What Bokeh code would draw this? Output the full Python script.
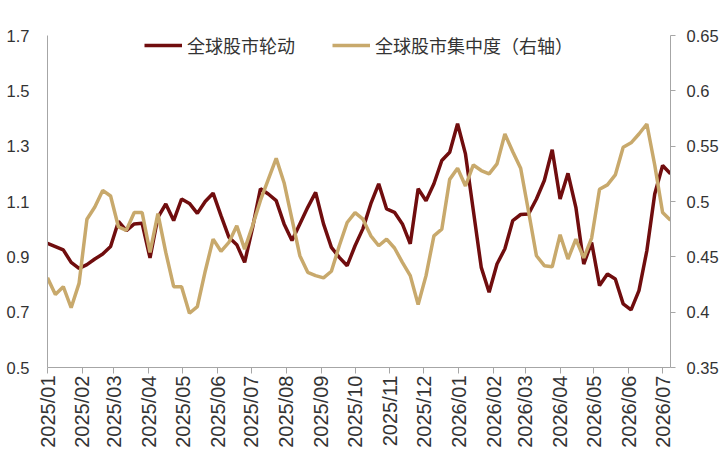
import numpy as np
import pandas as pd
from bokeh.plotting import figure
from bokeh.models import (Range1d, LinearAxis, FixedTicker, DatetimeTickFormatter,
                          NumeralTickFormatter, Legend, LegendItem)
from bokeh.embed import file_html
from bokeh.resources import INLINE

# 周度数据，2025/01 起
start_date = "2025-01-01"
n_weeks = 80

# 全球股市轮动（左轴）
rotation = [0.949, 0.937, 0.925, 0.880, 0.858, 0.872, 0.892, 0.910, 0.937, 1.028,
            0.995, 1.019, 1.021, 0.896, 1.043, 1.091, 1.031, 1.109, 1.093, 1.057,
            1.100, 1.130, 1.049, 0.971, 0.944, 0.880, 1.005, 1.146, 1.127, 1.103,
            1.019, 0.959, 1.019, 1.079, 1.133, 1.019, 0.934, 0.898, 0.868, 0.940,
            1.002, 1.092, 1.164, 1.073, 1.061, 1.019, 0.947, 1.146, 1.103, 1.164,
            1.248, 1.278, 1.381, 1.272, 1.067, 0.862, 0.772, 0.874, 0.929, 1.031,
            1.053, 1.055, 1.109, 1.176, 1.287, 1.109, 1.202, 1.079, 0.874, 0.952,
            0.796, 0.838, 0.820, 0.730, 0.708, 0.778, 0.922, 1.127, 1.230, 1.200]

# 全球股市集中度（右轴）
concentration = [0.431, 0.416, 0.423, 0.404, 0.426, 0.484, 0.495, 0.510, 0.505, 0.477,
                 0.474, 0.490, 0.490, 0.454, 0.489, 0.454, 0.423, 0.423, 0.399, 0.405,
                 0.437, 0.466, 0.455, 0.463, 0.478, 0.457, 0.478, 0.501, 0.520, 0.539,
                 0.517, 0.484, 0.451, 0.436, 0.433, 0.431, 0.437, 0.460, 0.481, 0.490,
                 0.484, 0.469, 0.460, 0.466, 0.458, 0.445, 0.433, 0.407, 0.433, 0.469,
                 0.475, 0.520, 0.530, 0.514, 0.533, 0.528, 0.525, 0.534, 0.561, 0.545,
                 0.530, 0.491, 0.451, 0.442, 0.441, 0.470, 0.448, 0.466, 0.449, 0.467,
                 0.511, 0.515, 0.524, 0.549, 0.553, 0.561, 0.570, 0.533, 0.490, 0.483]

tick_labels = ["2025/01", "2025/02", "2025/03", "2025/04", "2025/05", "2025/06",
               "2025/07", "2025/08", "2025/09", "2025/10", "2025/11", "2025/12",
               "2026/01", "2026/02", "2026/03", "2026/04", "2026/05", "2026/06",
               "2026/07"]
left_ticks = [0.5, 0.7, 0.9, 1.1, 1.3, 1.5, 1.7]
right_ticks = [0.35, 0.40, 0.45, 0.50, 0.55, 0.60, 0.65]

dates = pd.date_range(start_date, periods=n_weeks, freq="7D")
tick_ms = [pd.Timestamp(d).timestamp() * 1000 for d in pd.to_datetime(tick_labels, format="%Y/%m")]

DARK = "#700d0e"
TAN = "#c8a96c"
AXIS = "#a6a6a6"
TEXT = "#333333"

p = figure(frame_width=623, frame_height=332, x_axis_type="datetime",
           x_range=Range1d(dates[0].to_pydatetime(), dates[-1].to_pydatetime()),
           y_range=Range1d(0.5, 1.7),
           output_backend="svg", toolbar_location=None,
           min_border_left=47, min_border_right=56, min_border_top=35, min_border_bottom=89)
p.extra_y_ranges = {"conc": Range1d(0.35, 0.65)}
p.outline_line_color = None
p.xgrid.visible = False
p.ygrid.visible = False

r1 = p.line(dates, rotation, line_color=DARK, line_width=3.5)
r2 = p.line(dates, concentration, y_range_name="conc", line_color=TAN, line_width=3.5)

# 左轴
ly = p.yaxis[0]
ly.ticker = FixedTicker(ticks=left_ticks)
ly.formatter = NumeralTickFormatter(format="0.[0]")
ly.major_tick_out = 0
ly.major_tick_in = 0
ly.minor_tick_out = 0
ly.minor_tick_in = 0
ly.axis_line_color = AXIS
ly.major_label_standoff = 18
ly.major_label_text_font = "Liberation Sans"
ly.major_label_text_font_size = "16.5px"
ly.major_label_text_color = TEXT

# 右轴
ry = LinearAxis(y_range_name="conc")
ry.ticker = FixedTicker(ticks=right_ticks)
ry.formatter = NumeralTickFormatter(format="0.[00]")
ry.major_tick_out = 5
ry.major_tick_in = 0
ry.minor_tick_out = 0
ry.minor_tick_in = 0
ry.axis_line_color = AXIS
ry.major_tick_line_color = AXIS
ry.major_label_standoff = 11
ry.major_label_text_font = "Liberation Sans"
ry.major_label_text_font_size = "16.5px"
ry.major_label_text_color = TEXT
p.add_layout(ry, "right")

# 横轴
xa = p.xaxis[0]
xa.ticker = FixedTicker(ticks=tick_ms)
xa.formatter = DatetimeTickFormatter(days="%Y/%m", months="%Y/%m", years="%Y/%m")
xa.major_label_orientation = np.pi / 2
xa.major_tick_out = 6
xa.major_tick_in = 0
xa.minor_tick_out = 0
xa.minor_tick_in = 0
xa.axis_line_color = AXIS
xa.major_tick_line_color = AXIS
xa.major_label_standoff = 2
xa.major_label_text_font = "Liberation Sans"
xa.major_label_text_font_size = "20px"
xa.major_label_text_color = TEXT

legend = Legend(items=[LegendItem(label="全球股市轮动", renderers=[r1]),
                       LegendItem(label="全球股市集中度（右轴）", renderers=[r2])],
                orientation="horizontal", location=(97, 307),
                padding=8, margin=0, spacing=37,
                glyph_width=38, glyph_height=30, label_height=30, label_standoff=5,
                label_text_font="Noto Sans CJK SC", label_text_font_size="18px",
                label_text_color=TEXT, label_text_baseline="middle",
                border_line_color=None, background_fill_alpha=0)
p.add_layout(legend)

open("out.html", "w").write(file_html(p, INLINE))
